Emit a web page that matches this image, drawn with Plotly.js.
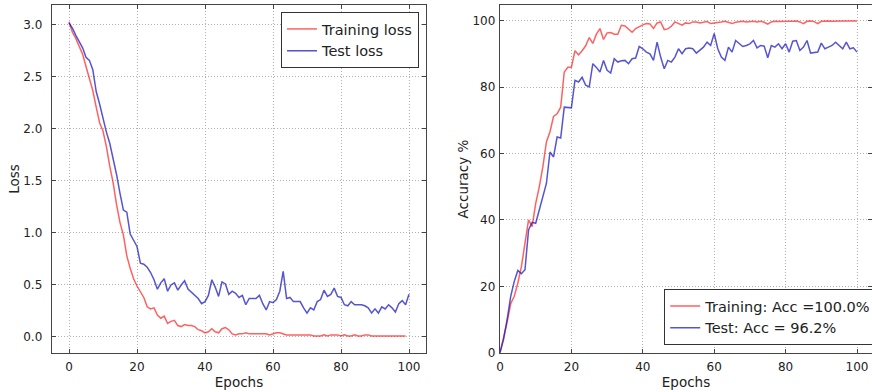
<!DOCTYPE html>
<html>
<head>
<meta charset="utf-8">
<script src="https://cdn.plot.ly/plotly-3.0.1.min.js"></script>
<style>html,body{margin:0;padding:0;background:#fff;}#chart{width:872px;height:392px;}</style>
</head>
<body>
<div id="chart"></div>
<script>
// Epoch indices
const epochsTrainLoss = [0,1,2,3,4,5,6,7,8,9,10,11,12,13,14,15,16,17,18,19,20,21,22,23,24,25,26,27,28,29,30,31,32,33,34,35,36,37,38,39,40,41,42,43,44,45,46,47,48,49,50,51,52,53,54,55,56,57,58,59,60,61,62,63,64,65,66,67,68,69,70,71,72,73,74,75,76,77,78,79,80,81,82,83,84,85,86,87,88,89,90,91,92,93,94,95,96,97,98,99];
const epochsFull = [0,1,2,3,4,5,6,7,8,9,10,11,12,13,14,15,16,17,18,19,20,21,22,23,24,25,26,27,28,29,30,31,32,33,34,35,36,37,38,39,40,41,42,43,44,45,46,47,48,49,50,51,52,53,54,55,56,57,58,59,60,61,62,63,64,65,66,67,68,69,70,71,72,73,74,75,76,77,78,79,80,81,82,83,84,85,86,87,88,89,90,91,92,93,94,95,96,97,98,99,100];

const trainingLoss = [3.03,2.93,2.87,2.79,2.72,2.60,2.48,2.37,2.21,2.06,1.98,1.83,1.64,1.48,1.27,1.10,0.98,0.78,0.66,0.56,0.49,0.44,0.38,0.29,0.27,0.28,0.21,0.18,0.20,0.13,0.15,0.16,0.11,0.10,0.12,0.11,0.11,0.10,0.07,0.06,0.04,0.05,0.08,0.05,0.04,0.08,0.09,0.07,0.03,0.02,0.03,0.03,0.04,0.03,0.03,0.03,0.03,0.03,0.03,0.02,0.03,0.04,0.04,0.03,0.02,0.02,0.02,0.02,0.02,0.02,0.02,0.02,0.01,0.01,0.01,0.02,0.01,0.02,0.02,0.02,0.01,0.02,0.01,0.01,0.02,0.01,0.01,0.02,0.02,0.01,0.01,0.01,0.01,0.01,0.01,0.01,0.01,0.01,0.01,0.01];

const testLoss = [3.02,2.97,2.90,2.84,2.78,2.69,2.66,2.57,2.36,2.24,2.10,1.97,1.86,1.72,1.56,1.38,1.22,1.20,0.99,0.93,0.87,0.71,0.70,0.67,0.62,0.55,0.46,0.52,0.56,0.44,0.50,0.52,0.45,0.50,0.54,0.46,0.43,0.40,0.37,0.32,0.34,0.40,0.55,0.48,0.39,0.53,0.51,0.41,0.44,0.42,0.38,0.40,0.31,0.37,0.37,0.37,0.40,0.32,0.26,0.34,0.33,0.36,0.44,0.63,0.37,0.38,0.34,0.34,0.34,0.28,0.23,0.28,0.26,0.34,0.36,0.45,0.39,0.41,0.47,0.39,0.38,0.31,0.30,0.34,0.31,0.31,0.31,0.30,0.28,0.23,0.27,0.23,0.29,0.27,0.31,0.28,0.24,0.32,0.35,0.31,0.41];

const trainingAcc = [0,4.5,9.2,14.8,17,21,26,33,40,38,45,50,56,63.5,66.6,71.2,72,74,84.6,86,86,91,89.8,91,92.5,95,93.2,96,97.7,94.4,96.4,96.5,96,96,98.7,98.5,97.5,96.6,97.7,98.3,98.8,99.2,99.1,97.7,99.4,99.7,97.4,97.6,98.4,99.7,99.2,98.7,99.4,99.2,99.7,99.7,99.4,99.6,99.8,99.2,99.3,99.6,99.7,99.9,99.6,99.2,99.6,99.8,99.9,99.7,99.8,99.9,99.7,99.9,99.6,99.0,99.7,99.9,99.8,99.9,99.8,99.9,99.9,100,99.7,99.2,99.9,100,99.8,99.2,99.9,100,100,99.9,100,100,100,100,100,100,100];

const testAcc = [0,4,10,17,21.5,24.8,23.8,25,37,39.3,39,43,47.2,51,60.5,59,65,64.7,74,74,73.8,82.1,81.6,83,80.6,80.1,87.1,86,84.6,88.1,85.1,84.3,88.6,87.6,88,88.1,87.1,88.6,88.8,92.3,91.6,90.6,90.1,88.1,93.6,89.1,85.6,88.1,87.6,89.1,91.6,90.1,91.6,91.8,91.6,90.3,91.2,92.1,93.6,92.6,96.2,91.6,89.1,88.1,92.1,90.6,94.1,93.1,92.3,92.6,93.1,94.1,91.9,92.6,92.4,88.9,92.6,92.1,93.1,91.6,93.1,90.6,93.9,94.1,91.1,92.1,94.1,90.3,90.5,90.6,93.3,91.6,92.1,92.6,93.6,92.6,91.6,93.6,91.6,91.9,90.6];

const lossNames = ['Training loss', 'Test loss'];
const accNames = ['Training: Acc =100.0%', 'Test: Acc = 96.2%'];
const xTicks = [0,20,40,60,80,100];
const lossTicks = [0.0,0.5,1.0,1.5,2.0,2.5,3.0];
const accTicks = [0,20,40,60,80,100];

const RED = 'rgba(255,0,0,0.62)';
const BLUE = 'rgba(20,20,190,0.72)';
const FONT = 'DejaVu Sans, Bitstream Vera Sans, sans-serif';

const traces = [
  {x: epochsTrainLoss, y: trainingLoss, name: lossNames[0], mode: 'lines', line: {color: RED, width: 1.5}, xaxis: 'x', yaxis: 'y', legend: 'legend'},
  {x: epochsFull, y: testLoss, name: lossNames[1], mode: 'lines', line: {color: BLUE, width: 1.5}, xaxis: 'x', yaxis: 'y', legend: 'legend'},
  {x: epochsFull, y: trainingAcc, name: accNames[0], mode: 'lines', line: {color: RED, width: 1.5}, xaxis: 'x2', yaxis: 'y2', legend: 'legend2'},
  {x: epochsFull, y: testAcc, name: accNames[1], mode: 'lines', line: {color: BLUE, width: 1.5}, xaxis: 'x2', yaxis: 'y2', legend: 'legend2'}
];

const axBase = {
  showline: true, linecolor: '#444', linewidth: 1.3, mirror: 'allticks',
  ticks: 'inside', ticklen: 4, tickcolor: '#444', tickwidth: 1,
  showgrid: true, gridcolor: '#b0b0b0', gridwidth: 1, griddash: '1px,2px',
  zeroline: false, tickfont: {family: FONT, size: 12, color: '#222'}
};

const W = 872, PH = 348, PB = 353;
const layout = {
  width: 872, height: 392,
  margin: {l: 0, r: 0, t: 5, b: 39, autoexpand: false},
  paper_bgcolor: '#fff', plot_bgcolor: '#fff',
  font: {family: FONT, color: '#222'},
  showlegend: true,
  xaxis: Object.assign({}, axBase, {domain: [52/W, 426/W], range: [-5, 105], tickvals: xTicks, ticklabelstandoff: 2,
    title: {text: 'Epochs', font: {family: FONT, size: 13.5, color: '#222'}, standoff: 4}, anchor: 'y'}),
  yaxis: Object.assign({}, axBase, {range: [-0.154, 3.192], tickvals: lossTicks, tickformat: '.1f', ticklabelstandoff: 6,
    title: {text: 'Loss', font: {family: FONT, size: 13.5, color: '#222'}, standoff: 0}, anchor: 'x'}),
  xaxis2: Object.assign({}, axBase, {domain: [500/W, 1], range: [0, 104.2], tickvals: xTicks, ticklabelstandoff: 2,
    title: {text: 'Epochs', font: {family: FONT, size: 13.5, color: '#222'}, standoff: 4}, anchor: 'y2'}),
  yaxis2: Object.assign({}, axBase, {range: [-0.1, 104.8], tickvals: accTicks, ticklabelstandoff: 1,
    title: {text: 'Accuracy %', font: {family: FONT, size: 13.5, color: '#222'}, standoff: 0}, anchor: 'x2'}),
  legend: {x: 419/W, xanchor: 'right', y: (PB - 12)/PH, yanchor: 'top', bgcolor: '#fff', bordercolor: '#333', borderwidth: 1,
    font: {family: FONT, size: 14.5, color: '#222'}},
  legend2: {x: 1.006, xanchor: 'right', y: (PB - 345)/PH, yanchor: 'bottom', bgcolor: '#fff', bordercolor: '#333', borderwidth: 1,
    font: {family: FONT, size: 14.5, color: '#222'}}
};

Plotly.newPlot('chart', traces, layout, {staticPlot: true, displayModeBar: false});
</script>
</body>
</html>
